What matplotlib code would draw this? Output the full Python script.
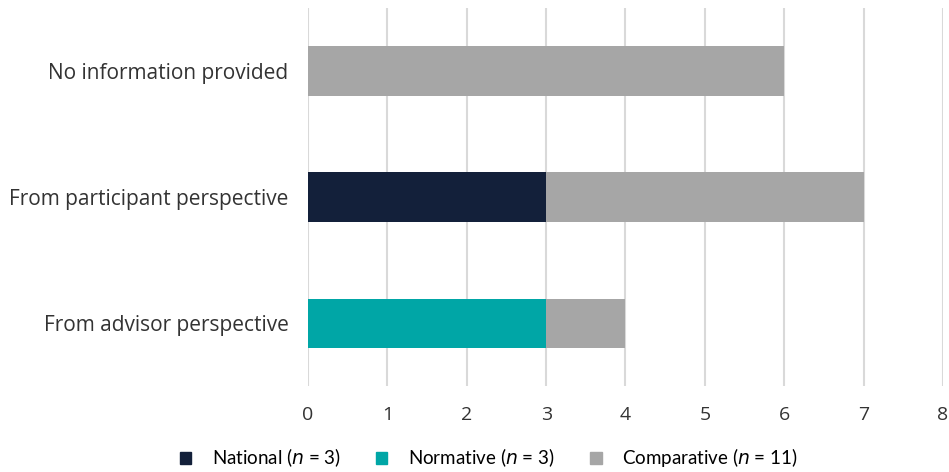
import matplotlib.pyplot as plt
from matplotlib.patches import Patch

categories = ['From advisor perspective', 'From participant perspective', 'No information provided']
national = [0, 3, 0]
normative = [3, 0, 0]
comparative = [1, 4, 6]
series_labels = ['National ($n$ = 3)', 'Normative ($n$ = 3)', 'Comparative ($n$ = 11)']
colors = ['#13203a', '#00a6a6', '#a6a6a6']

plt.rcParams['font.family'] = ['Lato', 'DejaVu Sans']

fig = plt.figure(figsize=(9.49, 4.72), dpi=100)
ax = fig.add_axes([0.3246, 0.182, 0.669, 0.801])

y = range(len(categories))
h = 0.39
ax.barh(y, national, height=h, color=colors[0], zorder=2)
left = [a + b for a, b in zip(national, normative)]
ax.barh(y, normative, left=national, height=h, color=colors[1], zorder=2)
ax.barh(y, comparative, left=left, height=h, color=colors[2], zorder=2)

ax.set_xlim(0, 8)
ax.set_ylim(-0.5, 2.5)
ax.set_xticks(range(9))
ax.set_yticks(list(y))
ax.set_yticklabels(categories, fontsize=15, color='#333333', family=['Open Sans', 'DejaVu Sans'])
for t in ax.get_xticklabels():
    t.set_family(['Open Sans', 'DejaVu Sans'])
ax.tick_params(axis='x', length=0, pad=14, labelsize=14, labelcolor='#333333')
ax.tick_params(axis='y', length=0, pad=14)
ax.grid(axis='x', color='#d9d9d9', linewidth=1.5, zorder=0)
for s in ax.spines.values():
    s.set_visible(False)

handles = [Patch(color=c) for c in colors]
fig.legend(handles, series_labels, loc='lower center', bbox_to_anchor=(0.515, -0.03),
           ncol=3, frameon=False, fontsize=13.5, handlelength=0.6, handleheight=0.6,
           columnspacing=1.9, handletextpad=1.1)

fig.savefig('out.png', dpi=100)
